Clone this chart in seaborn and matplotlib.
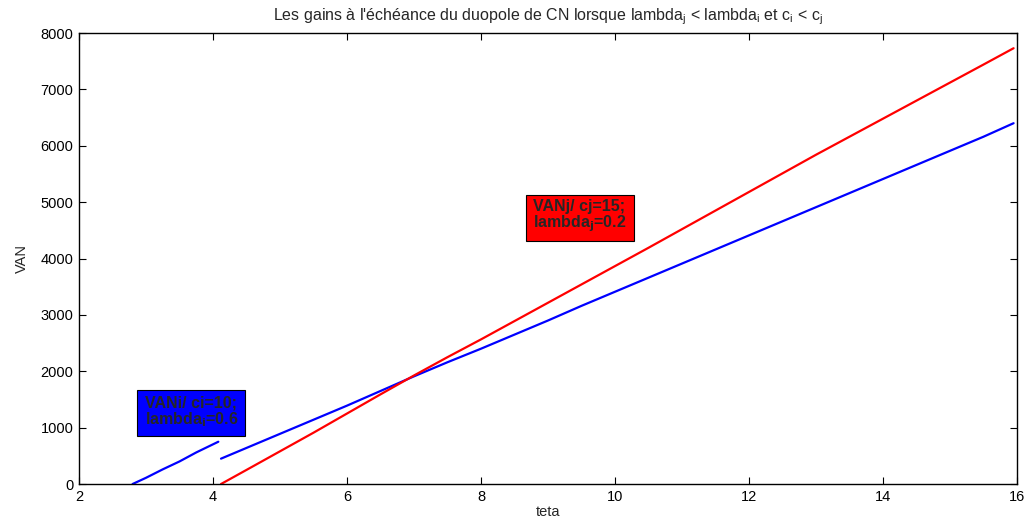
import numpy as np
import pandas as pd
import seaborn as sns
import matplotlib
matplotlib.use("Agg")
import matplotlib.pyplot as plt

# values
teta_i1 = [2.80, 3.00, 3.25, 3.50, 3.75, 4.08]
vani_1 = [0, 110, 260, 400, 560, 750]

teta = [4.12, 4.5, 5.0, 5.5, 6.0, 6.5, 7.0, 7.5, 8.0, 8.5, 9.0, 9.5, 10.0,
        10.5, 11.0, 11.5, 12.0, 12.5, 13.0, 13.5, 14.0, 14.5, 15.0, 15.5, 15.95]
vani_2 = [450, 640, 890, 1140, 1390, 1650, 1910, 2160, 2400, 2650, 2900, 3160, 3410,
          3660, 3910, 4160, 4410, 4660, 4910, 5160, 5410, 5660, 5910, 6160, 6400]
vanj = [0, 250, 580, 910, 1250, 1590, 1925, 2250, 2565, 2890, 3215, 3540, 3865,
        4190, 4520, 4850, 5180, 5510, 5840, 6160, 6480, 6800, 7120, 7440, 7730]

x_ticks = [2, 4, 6, 8, 10, 12, 14, 16]
y_ticks = [0, 1000, 2000, 3000, 4000, 5000, 6000, 7000, 8000]

sns.set_theme(style="ticks")
plt.rcParams['font.family'] = ['Liberation Sans', 'DejaVu Sans']

fig = plt.figure(figsize=(10.27, 5.19), dpi=100)
ax = fig.add_axes([0.0769, 0.0674, 0.9133, 0.869])

seg1 = pd.DataFrame({"teta": teta_i1, "VAN": vani_1})
seg2 = pd.DataFrame({"teta": teta, "VAN": vani_2})
red = pd.DataFrame({"teta": teta, "VAN": vanj})

sns.lineplot(data=seg1, x="teta", y="VAN", color=(0, 0, 1), lw=1.6, ax=ax, sort=False, estimator=None)
sns.lineplot(data=seg2, x="teta", y="VAN", color=(0, 0, 1), lw=1.6, ax=ax, sort=False, estimator=None)
sns.lineplot(data=red, x="teta", y="VAN", color=(1, 0, 0), lw=1.6, ax=ax, sort=False, estimator=None)

ax.set_xlim(2, 16)
ax.set_ylim(0, 8000)
ax.set_xticks(x_ticks)
ax.set_yticks(y_ticks)
ax.tick_params(direction="in", top=True, right=True, length=5, width=0.8,
               labelsize=10.5, colors="black", pad=4)
for s in ax.spines.values():
    s.set_visible(True)
    s.set_color("black")
    s.set_linewidth(1.0)

ax.set_xlabel("teta", fontsize=10.5, labelpad=1)
ax.set_ylabel("VAN", fontsize=10.5, labelpad=8)
ax.set_title("Les gains à l'échéance du duopole de CN lorsque lambda$_\\mathregular{j}$ < lambda$_\\mathregular{i}$ et c$_\\mathregular{i}$ < c$_\\mathregular{j}$",
             fontsize=11.5, pad=9)

ax.text(2.98, 1277, "VANi/ ci=10;\nlambda$_\\mathbf{i}$=0.6", fontsize=11.5, fontweight="bold",
        ha="left", va="center", linespacing=0.95,
        bbox=dict(boxstyle="square,pad=0.45", facecolor=(0, 0, 1), edgecolor="black", lw=0.8))
ax.text(8.78, 4750, "VANj/ cj=15;\nlambda$_\\mathbf{j}$=0.2", fontsize=11.5, fontweight="bold",
        ha="left", va="center", linespacing=0.95,
        bbox=dict(boxstyle="square,pad=0.45", facecolor=(1, 0, 0), edgecolor="black", lw=0.8))

fig.savefig("out.png", dpi=100)
